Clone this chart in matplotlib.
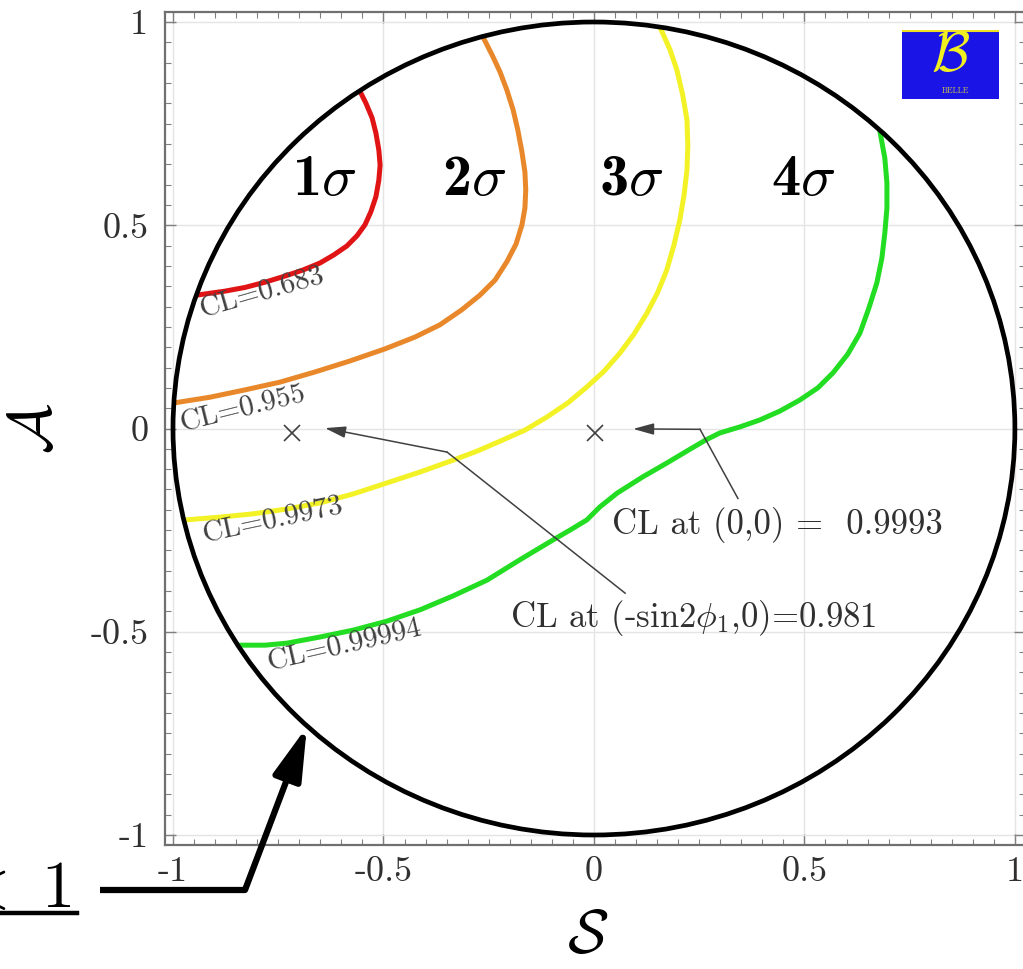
import matplotlib
matplotlib.use("Agg")
import matplotlib.pyplot as plt
from matplotlib.patches import Circle, Rectangle
from matplotlib.lines import Line2D
from matplotlib.ticker import FixedLocator, FixedFormatter, MultipleLocator

plt.rcParams['mathtext.fontset'] = 'cm'
plt.rcParams['font.family'] = ['cmr10', 'DejaVu Serif']
plt.rcParams['axes.unicode_minus'] = False

# ---------------- data ----------------
tick_vals = [-1, -0.5, 0, 0.5, 1]
tick_labels = ['-1', '-0.5', '0', '0.5', '1']

red_s = [-0.944, -0.876, -0.829, -0.781, -0.734, -0.691, -0.651, -0.618, -0.587, -0.563, -0.544,
         -0.530, -0.518, -0.511, -0.508, -0.511, -0.518, -0.527, -0.542, -0.556]
red_a = [0.328, 0.338, 0.347, 0.360, 0.375, 0.390, 0.407, 0.427, 0.449, 0.474, 0.501,
         0.533, 0.570, 0.611, 0.648, 0.685, 0.727, 0.764, 0.801, 0.830]

orange_s = [-0.997, -0.912, -0.829, -0.746, -0.663, -0.580, -0.496, -0.425, -0.366, -0.314, -0.271,
            -0.235, -0.207, -0.185, -0.171, -0.164, -0.162, -0.164, -0.171, -0.181, -0.192, -0.207,
            -0.223, -0.242, -0.264]
orange_a = [0.063, 0.077, 0.095, 0.114, 0.139, 0.166, 0.196, 0.225, 0.255, 0.292, 0.328,
            0.365, 0.410, 0.454, 0.501, 0.542, 0.587, 0.631, 0.680, 0.735, 0.784, 0.833,
            0.877, 0.919, 0.964]

yellow_s = [-0.972, -0.888, -0.810, -0.729, -0.651, -0.572, -0.492, -0.413, -0.335, -0.276, -0.216,
            -0.164, -0.112, -0.062, -0.017, 0.024, 0.062, 0.095, 0.126, 0.152, 0.173, 0.190,
            0.204, 0.214, 0.221, 0.223, 0.221, 0.211, 0.197, 0.181, 0.157]
yellow_a = [-0.225, -0.218, -0.210, -0.198, -0.183, -0.161, -0.134, -0.107, -0.078, -0.055, -0.028,
            -0.004, 0.028, 0.063, 0.102, 0.141, 0.186, 0.232, 0.284, 0.336, 0.390, 0.451,
            0.513, 0.574, 0.636, 0.697, 0.759, 0.820, 0.882, 0.931, 0.987]

green_s = [-0.843, -0.781, -0.729, -0.651, -0.572, -0.492, -0.413, -0.335, -0.254, -0.176, -0.097,
           -0.057, -0.017, 0.014, 0.055, 0.116, 0.173, 0.233, 0.266, 0.299, 0.347, 0.394,
           0.442, 0.489, 0.532, 0.568, 0.603, 0.632, 0.653, 0.672, 0.684, 0.691, 0.696,
           0.696, 0.691, 0.679]
green_a = [-0.533, -0.533, -0.528, -0.513, -0.496, -0.474, -0.446, -0.412, -0.373, -0.323, -0.274,
           -0.250, -0.225, -0.193, -0.159, -0.119, -0.085, -0.048, -0.028, -0.011, 0.004, 0.021,
           0.043, 0.070, 0.100, 0.137, 0.183, 0.235, 0.296, 0.358, 0.419, 0.481, 0.542,
           0.604, 0.665, 0.733]

contour_colors = ['#e01414', '#e8882a', '#f2f226', '#22dd22']
sigma_digits = ['1', '2', '3', '4']
sigma_s = [-0.641, -0.285, 0.088, 0.496]
sigma_a = 0.574

cl_labels = ['CL=0.683', 'CL=0.955', 'CL=0.9973', 'CL=0.99994']
cl_s = [-0.943, -0.990, -0.936, -0.781]
cl_a = [0.322, 0.040, -0.232, -0.547]
cl_rot = [16, 14, 12, 13]

cross_s = [-0.717, 0.002]
cross_a = [-0.01, -0.01]

# annotation 1: CL at (0,0)
ann1_text = 'CL at (0,0) =  0.9993'
ann1_xy = (0.043, -0.237)
ann1_tail = (0.342, -0.172)
ann1_corner = (0.252, -0.002)
ann1_tip = (0.093, -0.001)

# annotation 2: CL at (-sin2phi1, 0)
ann2_text = r'CL at (-sin2$\phi_1$,0)=0.981'
ann2_xy = (-0.200, -0.467)
ann2_tail = (0.074, -0.405)
ann2_corner = (-0.349, -0.058)
ann2_tip = (-0.639, 0.001)

big_arrow_tip = (-0.682, -0.734)

# ---------------- figure ----------------
W, H = 1023, 969
fig = plt.figure(figsize=(W / 100, H / 100), dpi=100)
ax = fig.add_axes([165 / W, 1 - 845 / H, 860 / W, 833 / H])
ax.set_xlim(-1.019, 1.024)
ax.set_ylim(-1.0246, 1.0246)

for sp in ax.spines.values():
    sp.set_color('#707070')
    sp.set_linewidth(1.6)

ax.xaxis.set_major_locator(FixedLocator(tick_vals))
ax.yaxis.set_major_locator(FixedLocator(tick_vals))
ax.xaxis.set_major_formatter(FixedFormatter(tick_labels))
ax.yaxis.set_major_formatter(FixedFormatter(tick_labels))
ax.xaxis.set_minor_locator(MultipleLocator(0.05))
ax.yaxis.set_minor_locator(MultipleLocator(0.05))
ax.tick_params(which='both', direction='in', top=True, right=True, color='#808080')
ax.tick_params(which='major', length=8, width=1.0, labelsize=26, labelcolor='#303030')
ax.tick_params(which='minor', length=4, width=0.8)
ax.tick_params(axis='y', pad=12)
ax.tick_params(axis='x', pad=8)
ax.grid(True, which='major', color='#e4e4e4', lw=1.0)
ax.set_axisbelow(True)

# contours
for s, a, c in zip([red_s, orange_s, yellow_s, green_s], [red_a, orange_a, yellow_a, green_a], contour_colors):
    ax.plot(s, a, color=c, lw=3.6, solid_capstyle='butt', solid_joinstyle='round', zorder=3)

# physical boundary circle
ax.add_patch(Circle((0, 0), 1.0, fill=False, ec='black', lw=3.4, zorder=4))

# sigma labels: bold digit + italic sigma
for d, s in zip(sigma_digits, sigma_s):
    ax.text(s, sigma_a, d + r'$\sigma$', fontsize=42, family='cmb10', ha='center', va='baseline',
            color='black', zorder=5)

# CL labels
for lab, s, a, r in zip(cl_labels, cl_s, cl_a, cl_rot):
    ax.text(s, a, lab, fontsize=21, ha='left', va='top', rotation=r, rotation_mode='anchor',
            color='#404040', zorder=5)

# crosses
ax.plot(cross_s, cross_a, ls='none', marker='x', ms=12, mew=1.2, color='#404040', zorder=5)

# annotations
ann_kw = dict(arrowstyle='-|>,head_length=0.9,head_width=0.25', color='#404040', lw=1.1,
              shrinkA=0, shrinkB=0, mutation_scale=14)
for tail, corner, tip in [(ann1_tail, ann1_corner, ann1_tip), (ann2_tail, ann2_corner, ann2_tip)]:
    ax.plot([tail[0], corner[0]], [tail[1], corner[1]], color='#404040', lw=1.1, zorder=5)
    ax.annotate('', xy=tip, xytext=corner, arrowprops=ann_kw, zorder=5)
ax.text(ann1_xy[0], ann1_xy[1], ann1_text, fontsize=25, ha='left', va='center', color='#303030')
ax.text(ann2_xy[0], ann2_xy[1], ann2_text, fontsize=25, ha='left', va='center', color='#303030')

# axis labels
ax.set_xlabel(r'$\mathcal{S}$', fontsize=44)
ax.set_ylabel(r'$\mathcal{A}$', fontsize=44)
ax.xaxis.set_label_coords(0.492, -0.078)
ax.yaxis.set_label_coords(-0.118, 0.5)

# Belle logo
lax = fig.add_axes([902 / W, 1 - 99 / H, 97 / W, 69 / H])
lax.set_xlim(0, 1)
lax.set_ylim(0, 1)
lax.axis('off')
lax.add_patch(Rectangle((0, 0), 1, 1, fc='#1a14e6', ec='none'))
lax.plot([0, 1], [0.985, 0.985], color='#f0e020', lw=1.5)
lax.text(0.50, 0.60, r'$\mathcal{B}$', fontsize=40, color='#f0f020', ha='center', va='center')
lax.text(0.55, 0.12, 'BELLE', fontsize=6, color='#c8c050', ha='center', va='center', style='italic')

# bottom-left annotation: "< 1" and thick arrow to the circle
fig.text(72 / W, 1 - 907 / H, r'$<\ 1$', fontsize=48, ha='right', va='baseline', color='black')
fig.add_artist(Line2D([0 / W, 77 / W], [1 - 913 / H, 1 - 913 / H], transform=fig.transFigure,
                      color='black', lw=3.2))
fig.add_artist(Line2D([100 / W, 245 / W], [1 - 890 / H, 1 - 890 / H], transform=fig.transFigure,
                      color='black', lw=4.5, solid_capstyle='butt'))
ax.annotate('', xy=big_arrow_tip, xytext=(245 / W, 1 - 890 / H), textcoords='figure fraction',
            arrowprops=dict(arrowstyle='-|>,head_length=0.8,head_width=0.22', color='black', lw=4.5,
                            shrinkA=0, shrinkB=0, mutation_scale=40),
            annotation_clip=False, zorder=6)

fig.savefig('out.png', dpi=100)
